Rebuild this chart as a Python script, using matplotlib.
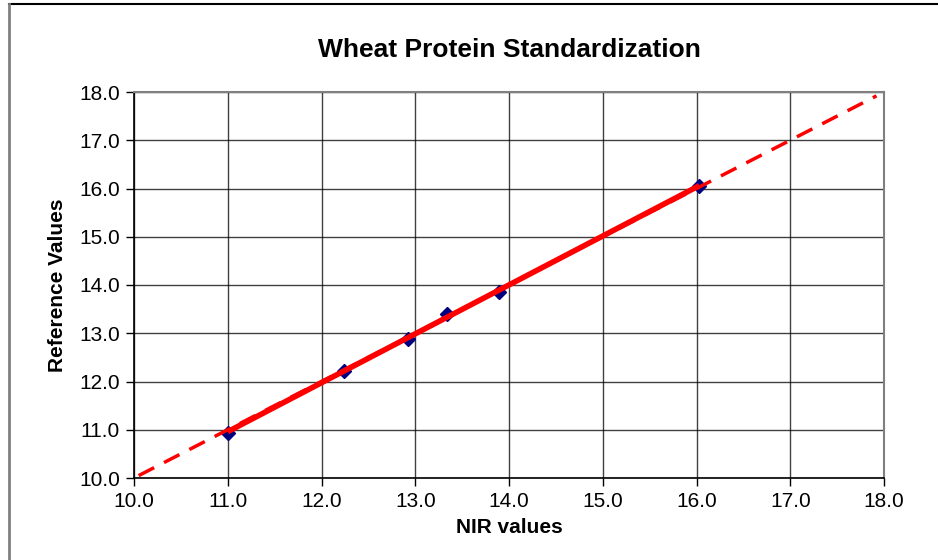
import numpy as np
import matplotlib
matplotlib.use("Agg")
import matplotlib.pyplot as plt
from matplotlib.lines import Line2D

plt.rcParams['font.family'] = ['Liberation Sans', 'DejaVu Sans']

# measured points (NIR vs reference)
nir = [11.00, 12.24, 12.92, 13.34, 13.89, 16.03]
ref = [10.94, 12.22, 12.89, 13.39, 13.85, 16.05]

# regression line
fit_x = [11.0, 16.03]
fit_y = [10.96, 16.06]

# 1:1 line
ident_x = [10.05, 17.92]
ident_y = [10.05, 17.92]

ticks = [10.0, 11.0, 12.0, 13.0, 14.0, 15.0, 16.0, 17.0, 18.0]

W, H = 938, 560
fig = plt.figure(figsize=(W/100, H/100), dpi=100)
ax = fig.add_axes([134/W, (H-478)/H, (884-134)/W, (478-92)/H])

ax.plot(nir, ref, linestyle='none', marker='D', markersize=7.5,
        color='#000080', zorder=3)
ax.plot(ident_x, ident_y, color='#ff0000', lw=2.5, dashes=(5, 3.2), zorder=4)
ax.plot(fit_x, fit_y, color='#ff0000', lw=4, zorder=5, solid_capstyle='butt')

ax.set_xlim(10, 18)
ax.set_ylim(10, 18)
ax.set_xticks(ticks)
ax.set_yticks(ticks)
ax.set_xticklabels([f"{t:.1f}" for t in ticks])
ax.set_yticklabels([f"{t:.1f}" for t in ticks])
ax.tick_params(direction='out', length=6, width=1, labelsize=15, colors='black', pad=4)
ax.grid(True, color='#000000', lw=1.0, alpha=0.75)
ax.set_axisbelow(True)

for s in ['top', 'right']:
    ax.spines[s].set_color('#808080')
    ax.spines[s].set_linewidth(1.5)
for s in ['left', 'bottom']:
    ax.spines[s].set_color('black')
    ax.spines[s].set_linewidth(1.2)

ax.set_xlabel("NIR values", fontsize=15, fontweight='bold', labelpad=5)
ax.set_ylabel("Reference Values", fontsize=15, fontweight='bold', labelpad=9)
fig.text(509/W, 1 - 50/H, "Wheat Protein Standardization", fontsize=19,
         fontweight='bold', ha='center', va='center')

# chart frame
fig.add_artist(Line2D([8.5/W, 1], [1 - 4/H, 1 - 4/H], color='black', lw=1.5,
                      transform=fig.transFigure))
fig.add_artist(Line2D([8.5/W, 8.5/W], [0, 1 - 4/H], color='#808080', lw=2,
                      transform=fig.transFigure))

fig.savefig("out.png", dpi=100)
